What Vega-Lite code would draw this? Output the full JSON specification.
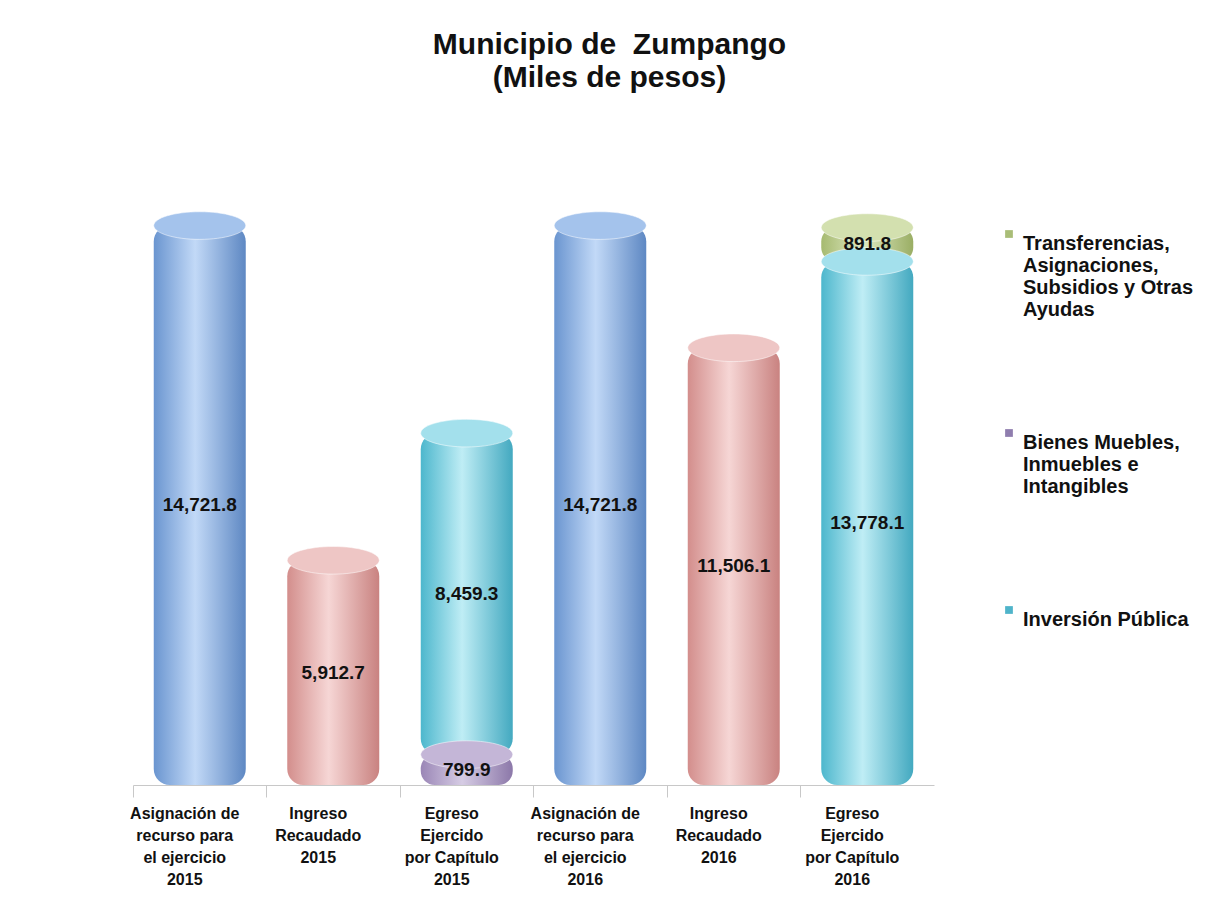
{
  "$schema": "https://vega.github.io/schema/vega-lite/v6.json",
  "autosize": "none",
  "width": 801,
  "height": 608,
  "padding": {"left": 133, "top": 177, "right": 273, "bottom": 121},
  "background": "white",
  "config": {"view": {"stroke": null}, "font": "Liberation Sans"},
  "title": {
    "text": ["Municipio de\u00a0 Zumpango", "(Miles de pesos)"],
    "fontSize": 30, "fontWeight": "bold", "font": "Liberation Sans", "color": "#111",
    "anchor": "middle", "dx": 76, "offset": 84, "lineHeight": 33
  },
  "data": {"values": [
    {"cat": "Asignación de|recurso para|el ejercicio|2015", "serie": "Asignación", "value": 14721.8},
    {"cat": "Ingreso|Recaudado|2015", "serie": "Ingreso", "value": 5912.7},
    {"cat": "Egreso|Ejercido|por Capítulo|2015", "serie": "Bienes Muebles, Inmuebles e Intangibles", "value": 799.9},
    {"cat": "Egreso|Ejercido|por Capítulo|2015", "serie": "Inversión Pública", "value": 8459.3},
    {"cat": "Asignación de|recurso para|el ejercicio|2016", "serie": "Asignación", "value": 14721.8},
    {"cat": "Ingreso|Recaudado|2016", "serie": "Ingreso", "value": 11506.1},
    {"cat": "Egreso|Ejercido|por Capítulo|2016", "serie": "Inversión Pública", "value": 13778.1},
    {"cat": "Egreso|Ejercido|por Capítulo|2016", "serie": "Transferencias, Asignaciones, Subsidios y Otras Ayudas", "value": 891.8}
  ]},
  "transform": [
    {"stack": "value", "groupby": ["cat"], "sort": [{"field": "serie", "order": "ascending"}], "as": ["y0", "y1"]},
    {"calculate": "(datum.y0 + datum.y1) / 2", "as": "mid"}
  ],
  "encoding": {
    "x": {
      "field": "cat", "type": "nominal", "title": null,
      "sort": ["Asignación de|recurso para|el ejercicio|2015", "Ingreso|Recaudado|2015", "Egreso|Ejercido|por Capítulo|2015", "Asignación de|recurso para|el ejercicio|2016", "Ingreso|Recaudado|2016", "Egreso|Ejercido|por Capítulo|2016"],
      "scale": {"paddingInner": 0, "paddingOuter": 0},
      "axis": {
        "labelExpr": "split(datum.value, '|')", "labelAngle": 0,
        "labelFont": "Liberation Sans", "labelFontSize": 16, "labelFontWeight": "bold",
        "labelColor": "#111", "labelLineHeight": 22, "labelPadding": 8, "labelBaseline": "top",
        "domainColor": "#c8c8c8", "tickColor": "#c8c8c8", "tickSize": 12, "bandPosition": 0,
        "labelOffset": -15
      }
    }
  },
  "layer": [
    {
      "transform": [{"filter": "datum.serie == 'Asignación'"}],
      "mark": {"type": "bar", "width": 92, "cornerRadius": 16,
        "fill": {"gradient": "linear", "x1": 0, "y1": 0, "x2": 1, "y2": 0,
          "stops": [{"offset": 0, "color": "#6A95D0"}, {"offset": 0.45, "color": "#C2D9F7"}, {"offset": 1, "color": "#5E88C3"}]}},
      "encoding": {"y": {"field": "y0", "type": "quantitative", "scale": {"domain": [0, 16000]}, "axis": null}, "y2": {"field": "y1"}}
    },
    {
      "transform": [{"filter": "datum.serie == 'Ingreso'"}],
      "mark": {"type": "bar", "width": 92, "cornerRadius": 16,
        "fill": {"gradient": "linear", "x1": 0, "y1": 0, "x2": 1, "y2": 0,
          "stops": [{"offset": 0, "color": "#D38E8C"}, {"offset": 0.45, "color": "#F6D6D5"}, {"offset": 1, "color": "#C98280"}]}},
      "encoding": {"y": {"field": "y0", "type": "quantitative", "scale": {"domain": [0, 16000]}, "axis": null}, "y2": {"field": "y1"}}
    },
    {
      "transform": [{"filter": "datum.serie == 'Inversión Pública'"}],
      "mark": {"type": "bar", "width": 92, "cornerRadius": 16,
        "fill": {"gradient": "linear", "x1": 0, "y1": 0, "x2": 1, "y2": 0,
          "stops": [{"offset": 0, "color": "#4DB7CD"}, {"offset": 0.45, "color": "#BFEDF5"}, {"offset": 1, "color": "#43A9C0"}]}},
      "encoding": {"y": {"field": "y0", "type": "quantitative", "scale": {"domain": [0, 16000]}, "axis": null}, "y2": {"field": "y1"}}
    },
    {
      "transform": [{"filter": "datum.serie == 'Bienes Muebles, Inmuebles e Intangibles'"}],
      "mark": {"type": "bar", "width": 92, "cornerRadius": 14,
        "fill": {"gradient": "linear", "x1": 0, "y1": 0, "x2": 1, "y2": 0,
          "stops": [{"offset": 0, "color": "#9A86B6"}, {"offset": 0.45, "color": "#D6CCE4"}, {"offset": 1, "color": "#8C78A9"}]}},
      "encoding": {"y": {"field": "y0", "type": "quantitative", "scale": {"domain": [0, 16000]}, "axis": null}, "y2": {"field": "y1"}}
    },
    {
      "transform": [{"filter": "datum.serie == 'Transferencias, Asignaciones, Subsidios y Otras Ayudas'"}],
      "mark": {"type": "bar", "width": 92, "cornerRadius": 14,
        "fill": {"gradient": "linear", "x1": 0, "y1": 0, "x2": 1, "y2": 0,
          "stops": [{"offset": 0, "color": "#A6BA70"}, {"offset": 0.45, "color": "#DFE9C3"}, {"offset": 1, "color": "#9AAE64"}]}},
      "encoding": {"y": {"field": "y0", "type": "quantitative", "scale": {"domain": [0, 16000]}, "axis": null}, "y2": {"field": "y1"}}
    },
    {
      "mark": {"type": "point", "filled": true, "opacity": 1, "size": 8464,
        "shape": "M -1 0 A 1 0.3 0 1 0 1 0 A 1 0.3 0 1 0 -1 0 Z",
        "stroke": "#ffffff", "strokeOpacity": 0.5, "strokeWidth": 1},
      "encoding": {
        "y": {"field": "y1", "type": "quantitative", "scale": {"domain": [0, 16000]}, "axis": null},
        "fill": {"field": "serie", "type": "nominal", "legend": null,
          "scale": {"domain": ["Asignación", "Ingreso", "Inversión Pública", "Bienes Muebles, Inmuebles e Intangibles", "Transferencias, Asignaciones, Subsidios y Otras Ayudas"],
            "range": ["#A4C3EC", "#EEC6C5", "#A3E0EC", "#C4B6D7", "#D3E0AF"]}}
      }
    },
    {
      "transform": [{"filter": "datum.serie != 'Asignación' && datum.serie != 'Ingreso'"}],
      "mark": {"type": "square", "opacity": 0, "size": 10},
      "encoding": {
        "y": {"field": "y1", "type": "quantitative", "scale": {"domain": [0, 16000]}, "axis": null},
        "color": {"field": "serie", "type": "nominal", "title": null,
          "scale": {"domain": ["Transferencias, Asignaciones, Subsidios y Otras Ayudas", "Bienes Muebles, Inmuebles e Intangibles", "Inversión Pública"],
            "range": ["#A9BD77", "#8F7DAE", "#4FB4CA"]},
          "legend": {
            "orient": "none", "legendX": 866, "legendY": 47, "direction": "vertical",
            "symbolType": "square", "symbolSize": 60, "symbolOpacity": 1, "symbolStrokeWidth": 0,
            "labelFont": "Liberation Sans", "labelFontSize": 20, "labelFontWeight": "bold", "labelColor": "#111",
            "labelLimit": 300, "labelLineHeight": 25, "labelBaseline": "top",
            "labelExpr": "datum.value == 'Transferencias, Asignaciones, Subsidios y Otras Ayudas' ? ['Transferencias,', 'Asignaciones,', 'Subsidios y Otras', 'Ayudas'] : datum.value == 'Bienes Muebles, Inmuebles e Intangibles' ? ['Bienes Muebles,', 'Inmuebles e', '\u00a0Intangibles'] : datum.value",
            "rowPadding": 103
          }
        }
      }
    },
    {
      "mark": {"type": "text", "font": "Liberation Sans", "fontSize": 19, "fontWeight": "bold", "color": "#111", "baseline": "middle"},
      "encoding": {
        "y": {"field": "mid", "type": "quantitative", "scale": {"domain": [0, 16000]}, "axis": null},
        "text": {"field": "value", "type": "quantitative", "format": ",.1f"}
      }
    }
  ]
}
